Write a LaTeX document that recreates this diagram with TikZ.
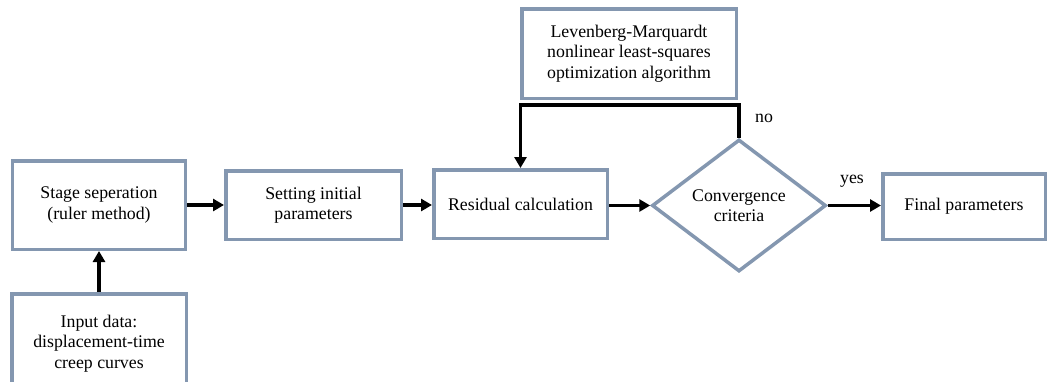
\documentclass[tikz,border=0pt]{standalone}
\usepackage{fontspec}
\setmainfont{Liberation Serif}
\usetikzlibrary{shapes.geometric,arrows.meta}
\definecolor{boxgray}{HTML}{8497B0}
\begin{document}
\begin{tikzpicture}[x=1pt,y=-1pt,
  every node/.style={font=\fontsize{17.8}{20.5}\selectfont},
  box/.style={draw=boxgray,line width=3.5pt,fill=white,align=center,inner sep=2pt},
  conn/.style={line width=3.6pt,-{Triangle[length=11pt,width=12pt]}},
  lbl/.style={inner sep=0pt}]
\useasboundingbox (0,0) rectangle (1047,381);
\begin{scope}
\clip (0,0) rectangle (1047,381);
\node[box,minimum width=173pt,minimum height=88.5pt] (stage) at (99,205) {Stage seperation\\(ruler method)};
\node[box,minimum width=175.5pt,minimum height=68.5pt] (setting) at (313.5,205) {Setting initial\\parameters};
\node[box,minimum width=173.5pt,minimum height=68.5pt] (res) at (520.5,204) {Residual calculation};
\node[box,minimum width=174.5pt,minimum height=99.5pt,anchor=north] (input) at (99,292) {Input data:\\displacement-time\\creep curves};
\node[box,minimum width=214.5pt,minimum height=89.5pt] (lm) at (629,53.5) {Levenberg-Marquardt\\nonlinear least-squares\\optimization algorithm};
\node[box,shape=diamond,inner sep=0pt,minimum width=174pt,minimum height=132pt] (conv) at (739,205.5) {Convergence\\criteria};
\node[box,minimum width=162.5pt,minimum height=65.5pt] (final) at (964,206.5) {Final parameters};
\end{scope}
\draw[conn] (input.north) -- (stage.south);
\draw[conn] (stage.east) -- (setting.west);
\draw[conn] (setting.east) -- (res.west |- setting.east);
\draw[conn] (res.east |- conv.west) -- (conv.west);
\draw[conn] (conv.east) -- (final.west |- conv.east);
\draw[conn] (conv.north) -- ++(0,-33) -| (res.north);
\node[lbl,anchor=west] (no) at (755,118) {no};
\node[lbl] (yes) at (852,181) {yes};
\end{tikzpicture}
\end{document}
